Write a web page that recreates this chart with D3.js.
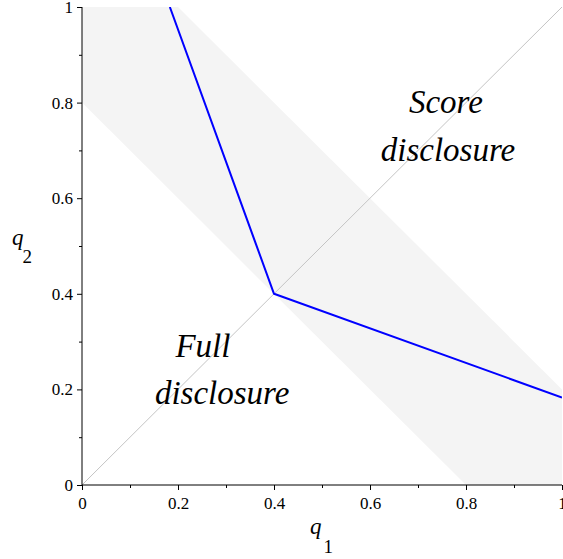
<!DOCTYPE html>
<html><head><meta charset="utf-8">
<script src="https://cdn.jsdelivr.net/npm/d3@7"></script>
<style>body{margin:0;background:#fff}svg{display:block}</style>
</head><body><svg id="c" width="563" height="559"></svg>
<script>
const xTicks = [0, 0.2, 0.4, 0.6, 0.8, 1];
const yTicks = [0, 0.2, 0.4, 0.6, 0.8, 1];
const minorTicks = [0.1, 0.3, 0.5, 0.7, 0.9];
const bandSums = [0.8, 1.2];            // shaded band: 0.8 <= q1+q2 <= 1.2
const diagonal = [[0, 0], [1, 1]];
const boundary = [[0.183, 1], [0.4, 0.4], [1, 0.183]];
const labelText = ["Score", "disclosure", "Full", "disclosure"];
const labelQ1 = [0.758, 0.7625, 0.252, 0.292];
const labelQ2 = [0.778, 0.678, 0.268, 0.169];

const svg = d3.select("#c");
const x = d3.scaleLinear().domain([0, 1]).range([82, 562]);
const y = d3.scaleLinear().domain([0, 1]).range([485, 7]);

svg.append("defs").append("clipPath").attr("id", "clip")
  .append("rect").attr("x", x(0)).attr("y", y(1))
  .attr("width", x(1) - x(0)).attr("height", y(0) - y(1));

const g = svg.append("g").attr("clip-path", "url(#clip)");
const lo = bandSums[0], hi = bandSums[1];
const bandPts = [[0, lo], [0, hi], [hi, 0], [lo, 0]];
const line = d3.line().x(d => x(d[0])).y(d => y(d[1]));
g.append("path").attr("d", line(bandPts) + "Z").attr("fill", "#f4f4f4");

g.append("path").attr("d", line(diagonal)).attr("fill", "none")
  .attr("stroke", "#c4c4c4").attr("stroke-width", 1);

const fontFam = "'Liberation Serif','Times New Roman',serif";
svg.selectAll("text.region").data(labelText).join("text").attr("class", "region")
  .attr("font-family", fontFam).attr("font-style", "italic")
  .attr("font-size", 33).attr("text-anchor", "middle").attr("fill", "#000")
  .attr("x", (d, i) => x(labelQ1[i])).attr("y", (d, i) => y(labelQ2[i]))
  .text(d => d);

g.append("path").attr("d", line(boundary)).attr("fill", "none")
  .attr("stroke", "#0000ff").attr("stroke-width", 2).attr("stroke-linejoin", "round");

const fmt = d => d === 0 ? "0" : d === 1 ? "1" : d3.format(".1f")(d);
const xAxis = svg.append("g").attr("transform", `translate(0,${y(0)})`)
  .call(d3.axisBottom(x).tickValues(xTicks).tickSize(5).tickPadding(7).tickFormat(fmt));
svg.append("g").attr("transform", `translate(0,${y(0)})`)
  .call(d3.axisBottom(x).tickValues(minorTicks).tickSize(3).tickFormat(""))
  .select(".domain").remove();

const yAxis = svg.append("g").attr("transform", `translate(${x(0)},0)`)
  .call(d3.axisLeft(y).tickValues(yTicks).tickSize(5).tickPadding(4).tickFormat(fmt));
svg.append("g").attr("transform", `translate(${x(0)},0)`)
  .call(d3.axisLeft(y).tickValues(minorTicks).tickSize(3).tickFormat(""))
  .select(".domain").remove();

svg.selectAll(".tick text").attr("font-family", fontFam).attr("font-size", 17).attr("fill", "#000");
svg.selectAll(".tick line").attr("stroke", "#000");
xAxis.select(".domain").attr("stroke", "#000").attr("d", `M${x(0)},0H${x(1)}`);
yAxis.select(".domain").attr("stroke", "#000").attr("d", `M0,${y(0)}V${y(1)}`);

const q1 = svg.append("text").attr("font-family", fontFam).attr("x", 310).attr("y", 534);
q1.append("tspan").attr("font-style", "italic").attr("font-size", 23).text("q");
q1.append("tspan").attr("font-size", 19).attr("dy", 19).attr("dx", 2).text("1");
const q2 = svg.append("text").attr("font-family", fontFam).attr("x", 12).attr("y", 245);
q2.append("tspan").attr("font-style", "italic").attr("font-size", 23).text("q");
q2.append("tspan").attr("font-size", 19).attr("dy", 18).attr("dx", -1).text("2");
</script></body></html>
